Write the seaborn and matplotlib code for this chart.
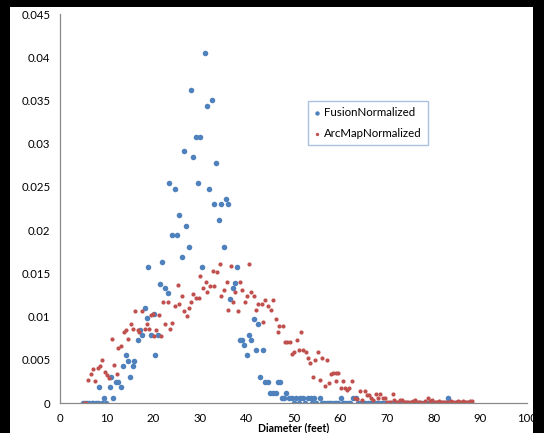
import numpy as np
import pandas as pd
import seaborn as sns
import matplotlib.pyplot as plt
from matplotlib.patches import Rectangle

# Fusion normalized diameter distribution, rows of 10
fusion_x = [5.0, 5.4, 5.8, 6.3, 6.8, 7.1, 7.7, 8.2, 8.4, 8.9,
            9.5, 9.8, 10.6, 10.9, 11.4, 12.0, 12.5, 13.0, 13.4, 14.1,
            14.5, 15.0, 15.6, 15.9, 16.6, 17.1, 17.6, 18.1, 18.6, 18.9,
            19.5, 20.1, 20.4, 20.9, 21.4, 21.9, 22.5, 23.1, 23.4, 24.0,
            24.6, 25.1, 25.5, 26.1, 26.6, 27.0, 27.6, 28.1, 28.5, 29.1,
            29.6, 30.0, 30.5, 31.1, 31.5, 32.0, 32.6, 33.0, 33.5, 34.0,
            34.5, 35.1, 35.5, 36.0, 36.5, 37.1, 37.5, 38.0, 38.5, 39.0,
            39.5, 40.0, 40.5, 41.0, 41.5, 41.9, 42.4, 42.9, 43.4, 43.9,
            44.6, 45.0, 45.7, 46.2, 46.7, 47.1, 47.5, 48.0, 48.5, 49.1,
            49.6, 50.0, 50.5, 51.1, 51.4, 52.0, 52.5, 53.2, 53.7, 53.9,
            54.4, 54.9, 55.6, 56.1, 56.6, 57.1, 57.6, 58.1, 58.6, 59.1,
            59.6, 60.1, 60.6, 61.1, 61.6, 62.1, 62.7, 63.4, 63.9, 64.4,
            64.9, 65.4, 65.9, 66.4, 66.9, 67.4, 67.9, 68.4, 68.9, 69.4,
            69.9, 70.4, 70.9, 71.4, 71.9, 72.4, 72.9, 73.4, 73.9, 74.4,
            74.9, 75.4, 75.9, 76.4, 76.9, 77.4, 77.9, 78.4, 78.9, 79.4,
            79.9, 80.4, 80.9, 81.4, 81.9, 82.4, 83.1, 83.6, 84.1, 84.6,
            85.1, 85.6, 86.1, 86.6, 87.1, 87.6, 88.1]
fusion_y = [0, 0, 0, 0, 0, 0, 0, 0, 0.0018, 0,
            0.0006, 0, 0.0018, 0.003, 0.0006, 0.0024, 0.0024, 0.0018, 0.0043, 0.0055,
            0.0049, 0.003, 0.0043, 0.0049, 0.0073, 0.0085, 0.0079, 0.011, 0.0098, 0.0157,
            0.0079, 0.0103, 0.0055, 0.0079, 0.0138, 0.0163, 0.0133, 0.0127, 0.0254, 0.0194,
            0.0248, 0.0194, 0.0218, 0.0169, 0.0291, 0.0205, 0.0181, 0.0362, 0.0285, 0.0308,
            0.0254, 0.0308, 0.0157, 0.0405, 0.0344, 0.0248, 0.035, 0.023, 0.0278, 0.0212,
            0.023, 0.0181, 0.0236, 0.023, 0.012, 0.0133, 0.0139, 0.0157, 0.0073, 0.0073,
            0.0067, 0.0055, 0.0079, 0.0073, 0.0097, 0.0061, 0.0091, 0.003, 0.0061, 0.0024,
            0.0024, 0.0012, 0.0012, 0.0012, 0.0024, 0.0024, 0.0006, 0.0006, 0.0012, 0.0006,
            0.0006, 0, 0.0006, 0, 0.0006, 0.0006, 0, 0.0006, 0.0006, 0,
            0.0006, 0, 0.0006, 0, 0, 0, 0, 0, 0, 0,
            0, 0.0006, 0, 0, 0, 0, 0.0006, 0.0006, 0, 0,
            0, 0, 0, 0, 0, 0, 0, 0, 0, 0,
            0, 0, 0, 0, 0, 0, 0, 0, 0, 0,
            0, 0, 0, 0, 0, 0, 0, 0, 0, 0,
            0, 0, 0, 0, 0, 0, 0.0006, 0, 0, 0,
            0, 0, 0, 0, 0, 0, 0]

# ArcMap normalized diameter distribution, rows of 10
arcmap_x = [5.2, 5.6, 6.1, 6.6, 7.0, 7.6, 8.1, 8.6, 9.1, 9.6,
            10.0, 10.4, 11.1, 11.5, 12.1, 12.5, 13.0, 13.6, 14.1, 14.5,
            15.1, 15.7, 16.1, 16.6, 17.0, 17.6, 18.1, 18.6, 19.1, 19.5,
            20.0, 20.2, 20.6, 21.1, 21.6, 22.0, 22.5, 23.1, 23.6, 24.0,
            24.6, 25.2, 25.5, 26.1, 26.6, 27.1, 27.6, 28.1, 28.5, 29.1,
            29.7, 30.0, 30.6, 31.2, 31.5, 32.1, 32.7, 33.0, 33.6, 34.2,
            34.5, 35.1, 35.7, 35.9, 36.6, 37.1, 37.5, 38.1, 38.6, 39.0,
            39.6, 40.1, 40.5, 41.0, 41.6, 42.0, 42.5, 43.2, 43.5, 44.0,
            44.6, 45.2, 45.6, 46.2, 46.7, 47.0, 47.7, 48.2, 48.7, 49.2,
            49.7, 50.1, 50.7, 51.2, 51.5, 52.1, 52.6, 53.1, 53.6, 54.2,
            54.5, 55.2, 55.7, 56.0, 56.7, 57.2, 57.5, 58.1, 58.5, 59.0,
            59.1, 59.6, 60.1, 60.6, 61.0, 61.5, 61.9, 62.6, 63.2, 63.7,
            64.2, 64.7, 65.3, 65.7, 66.1, 66.6, 67.1, 67.6, 68.1, 68.6,
            69.1, 69.6, 70.1, 70.6, 71.2, 71.6, 72.1, 72.7, 73.2, 73.6,
            74.1, 74.6, 75.1, 75.6, 76.1, 76.6, 77.1, 77.6, 78.1, 78.7,
            79.2, 79.7, 80.2, 80.7, 81.2, 81.7, 82.2, 82.7, 83.2, 83.7,
            84.2, 84.7, 85.2, 85.7, 86.2, 86.7, 87.2, 87.7, 88.3]
arcmap_y = [0, 0, 0.0027, 0.0034, 0.0039, 0.0025, 0.0041, 0.0043, 0.005, 0.0036,
            0.0032, 0.0029, 0.0074, 0.0044, 0.0033, 0.0064, 0.0066, 0.0082, 0.0084, 0.0074,
            0.0091, 0.0086, 0.0106, 0.0084, 0.0082, 0.0106, 0.0086, 0.0091, 0.0086, 0.0102,
            0.0103, 0.0078, 0.0084, 0.0102, 0.0078, 0.0117, 0.0091, 0.0117, 0.0086, 0.0093,
            0.0112, 0.0137, 0.0115, 0.0124, 0.0106, 0.0101, 0.011, 0.0117, 0.0126, 0.0122,
            0.0122, 0.0147, 0.0133, 0.014, 0.0128, 0.0135, 0.0153, 0.0135, 0.0151, 0.0161,
            0.0124, 0.0131, 0.014, 0.0108, 0.0158, 0.0117, 0.0128, 0.0106, 0.014, 0.0131,
            0.0117, 0.0124, 0.0161, 0.0128, 0.0124, 0.0108, 0.0115, 0.0115, 0.0094, 0.0119,
            0.0112, 0.0108, 0.0119, 0.0097, 0.0082, 0.0089, 0.0089, 0.0071, 0.0071, 0.0071,
            0.0057, 0.0059, 0.0073, 0.0061, 0.0082, 0.0061, 0.0059, 0.0052, 0.0046, 0.003,
            0.005, 0.0059, 0.0027, 0.0052, 0.002, 0.005, 0.0023, 0.0034, 0.0035, 0.0035,
            0.0025, 0.0035, 0.0017, 0.0025, 0.0017, 0.0015, 0.0017, 0.0025, 0.0006, 0.0005,
            0.0014, 0.0003, 0.0014, 0.0009, 0.0009, 0.0006, 0.0004, 0.001, 0.0006, 0.001,
            0.0006, 0.0006, 0.0001, 0.0001, 0.001, 0.0004, 0.0001, 0.0004, 0.0004, 0.0001,
            0.0001, 0.0001, 0.0001, 0.0002, 0.0004, 0.0001, 0.0001, 0.0, 0.0002, 0.0006,
            0.0002, 0.0004, 0.0001, 0.0001, 0.0002, 0.0001, 0.0001, 0.0001, 0.0001, 0.0002,
            0.0001, 0.0001, 0.0002, 0.0001, 0.0002, 0.0001, 0.0001, 0.0002, 0.0002]

series_names = ["FusionNormalized", "ArcMapNormalized"]
colors = ["#4F81BD", "#C0504D"]

df = pd.concat([
    pd.DataFrame({"Diameter": fusion_x, "Value": fusion_y, "Series": series_names[0]}),
    pd.DataFrame({"Diameter": arcmap_x, "Value": arcmap_y, "Series": series_names[1]}),
])

sns.set_style("white")
plt.rcParams["font.family"] = ["Lato", "DejaVu Sans"]

fig = plt.figure(figsize=(5.44, 4.33), dpi=100, facecolor="black")
# white chart area inside the black frame (frame on left, top and right only)
fig.patches.append(Rectangle((10 / 544, 0), 523 / 544, 426 / 433,
                             transform=fig.transFigure, facecolor="white",
                             edgecolor="none", zorder=-10))
ax = fig.add_axes([60 / 544, 30 / 433, 467 / 544, 389 / 433])
ax.patch.set_alpha(0)

# draw the two series separately so each keeps its own marker size
for name, col, size in zip(series_names, colors, [16, 9]):
    sns.scatterplot(data=df[df["Series"] == name], x="Diameter", y="Value",
                    color=col, s=size, linewidth=0, ax=ax, label=name)

ax.set_xlim(0, 100)
ax.set_ylim(0, 0.045)
ax.set_xticks(np.arange(0, 101, 10))
ax.set_yticks(np.arange(0, 0.0451, 0.005))
ax.set_yticklabels(["0", "0.005", "0.01", "0.015", "0.02", "0.025", "0.03",
                    "0.035", "0.04", "0.045"])
ax.set_xlabel("Diameter (feet)", fontsize=7.6, fontweight="bold", labelpad=-1,
              color="black")
ax.set_ylabel("")
ax.tick_params(axis="both", labelsize=8.2, length=4, width=0.8, color="#898989",
               labelcolor="black", direction="out", pad=3)
for side in ["top", "right"]:
    ax.spines[side].set_visible(False)
for side in ["left", "bottom"]:
    ax.spines[side].set_color("#898989")
    ax.spines[side].set_linewidth(0.9)

leg = ax.legend(loc="upper left", bbox_to_anchor=(0.531, 0.776), borderaxespad=0,
                fontsize=8.3, frameon=True, fancybox=False, markerscale=0.8,
                handletextpad=0.3, handlelength=0.6, borderpad=0.5,
                labelspacing=0.9)
leg.get_frame().set_edgecolor("#95B3D7")
leg.get_frame().set_linewidth(1.0)
for txt in leg.get_texts():
    txt.set_color("black")

fig.savefig("out.png", dpi=100, facecolor="black")
